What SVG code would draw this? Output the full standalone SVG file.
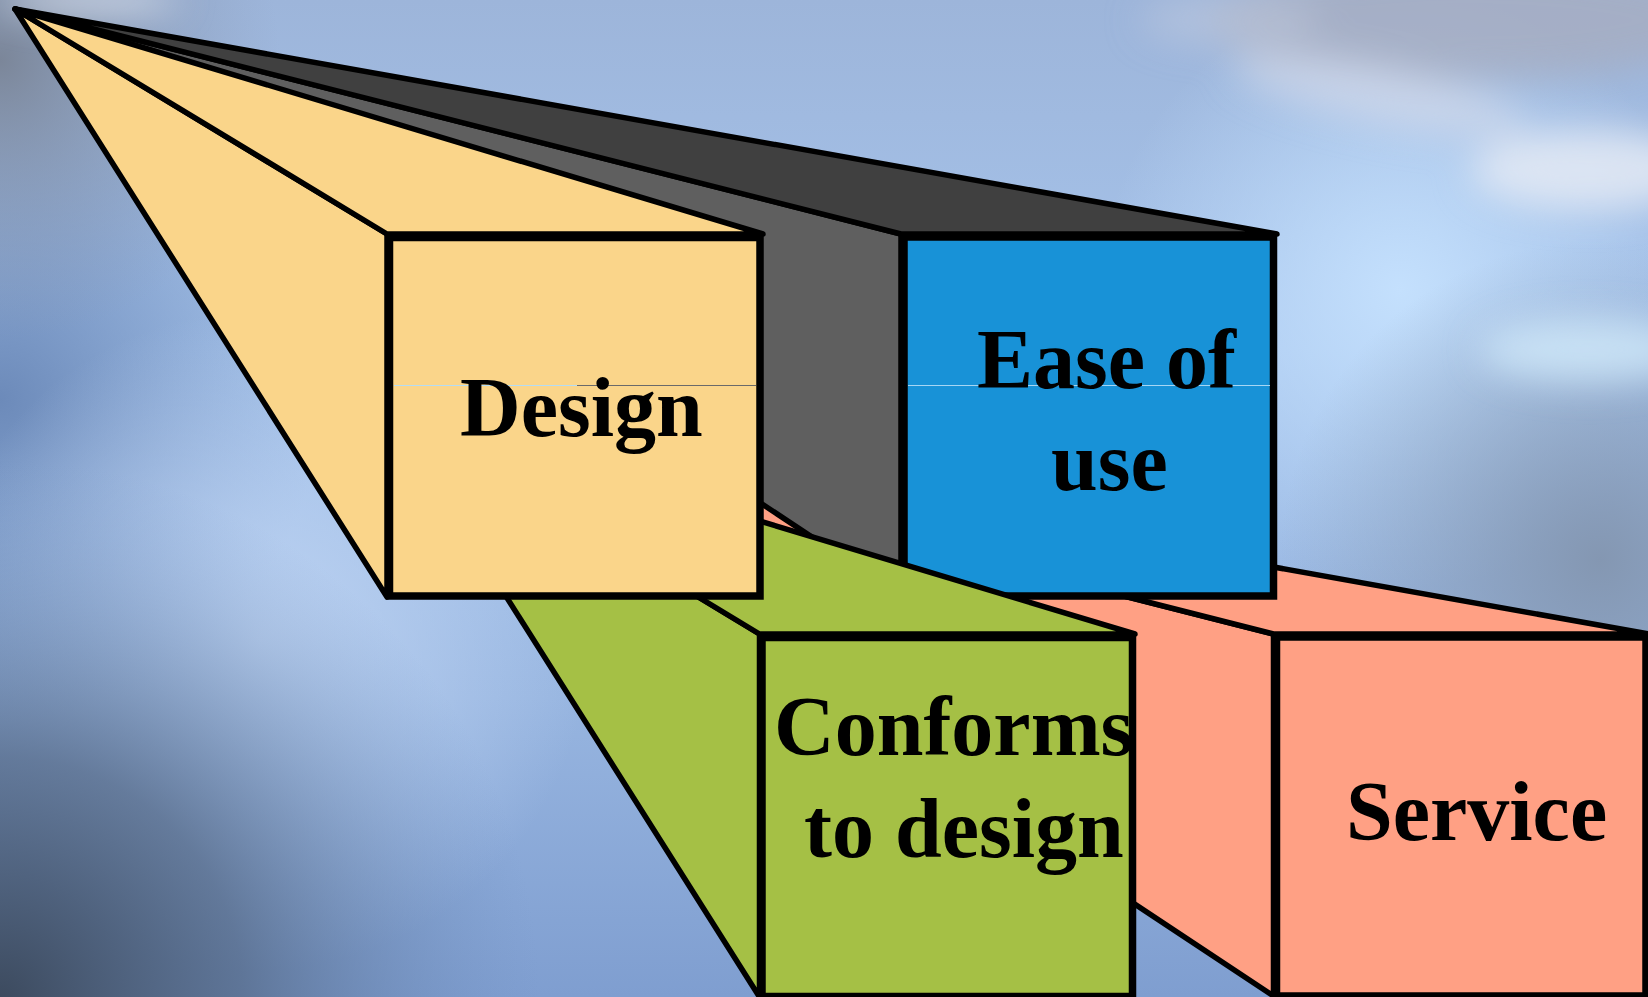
<svg xmlns="http://www.w3.org/2000/svg" width="1648" height="997" viewBox="0 0 1648 997">
  <defs>
    <linearGradient id="skyBase" x1="0" y1="0" x2="0" y2="1">
      <stop offset="0" stop-color="#9db5da"/>
      <stop offset="0.35" stop-color="#a6c4ec"/>
      <stop offset="0.7" stop-color="#97b5e0"/>
      <stop offset="1" stop-color="#7f9ed0"/>
    </linearGradient>
    <radialGradient id="darkCorner" cx="0" cy="1000" r="540" gradientUnits="userSpaceOnUse">
      <stop offset="0" stop-color="#3c4a5e" stop-opacity="1"/>
      <stop offset="0.45" stop-color="#566b8a" stop-opacity="0.8"/>
      <stop offset="1" stop-color="#7090c0" stop-opacity="0"/>
    </radialGradient>
    <radialGradient id="slateLeft" cx="0" cy="400" r="320" gradientUnits="userSpaceOnUse">
      <stop offset="0" stop-color="#6684b4" stop-opacity="0.9"/>
      <stop offset="1" stop-color="#6684b4" stop-opacity="0"/>
    </radialGradient>
    <radialGradient id="grayTopLeft" cx="0" cy="60" r="280" gradientUnits="userSpaceOnUse">
      <stop offset="0" stop-color="#7b8699" stop-opacity="1"/>
      <stop offset="1" stop-color="#8a9ab6" stop-opacity="0"/>
    </radialGradient>
    <radialGradient id="glowLeft" cx="260" cy="640" r="330" gradientUnits="userSpaceOnUse">
      <stop offset="0" stop-color="#bdd3f2" stop-opacity="1"/>
      <stop offset="1" stop-color="#bdd3f2" stop-opacity="0"/>
    </radialGradient>
    <radialGradient id="glowRight" cx="1400" cy="290" r="300" gradientUnits="userSpaceOnUse">
      <stop offset="0" stop-color="#c4e0fd" stop-opacity="1"/>
      <stop offset="1" stop-color="#c4e0fd" stop-opacity="0"/>
    </radialGradient>
    <radialGradient id="grayRight" cx="1600" cy="560" r="320" gradientUnits="userSpaceOnUse">
      <stop offset="0" stop-color="#8497b2" stop-opacity="1"/>
      <stop offset="1" stop-color="#8497b2" stop-opacity="0"/>
    </radialGradient>
    <filter id="soft" x="-50%" y="-50%" width="200%" height="200%">
      <feGaussianBlur stdDeviation="18"/>
    </filter>
    <style>
      .edge { stroke: #000; stroke-width: 5.5; stroke-linejoin: round; stroke-linecap: round; }
      .front { stroke: #000; stroke-width: 7.5; stroke-linejoin: miter; }
      .label { font-family: "Liberation Serif", "Times New Roman", serif; font-weight: bold; font-size: 84px; fill: #000; }
      .yellow { fill: #fad58a; }
      .blue { fill: #1892d7; }
      .green { fill: #a5c045; }
      .salmon { fill: #ffa084; }
      .grayTop { fill: #404040; }
      .graySide { fill: #5f5f5f; }
    </style>
  </defs>

  <!-- sky backdrop -->
  <g id="background">
    <rect x="0" y="0" width="1648" height="997" fill="url(#skyBase)"/>
    <rect x="0" y="0" width="1648" height="997" fill="url(#slateLeft)"/>
    <rect x="0" y="0" width="1648" height="997" fill="url(#glowLeft)"/>
    <rect x="0" y="0" width="1648" height="997" fill="url(#darkCorner)"/>
    <rect x="0" y="0" width="1648" height="997" fill="url(#grayTopLeft)"/>
    <rect x="0" y="0" width="1648" height="997" fill="url(#glowRight)"/>
    <rect x="0" y="0" width="1648" height="997" fill="url(#grayRight)"/>
    <g filter="url(#soft)">
      <ellipse cx="1470" cy="20" rx="260" ry="60" fill="#a6acc0" opacity="0.8"/>
      <ellipse cx="1380" cy="95" rx="150" ry="28" fill="#d2d8ea" opacity="0.7" transform="rotate(12 1380 95)"/>
      <ellipse cx="1590" cy="170" rx="120" ry="40" fill="#e4eaf4" opacity="0.85"/>
      <ellipse cx="1590" cy="350" rx="110" ry="32" fill="#d4ecfc" opacity="0.75"/>
      <ellipse cx="90" cy="0" rx="90" ry="14" fill="#e0e6f0" opacity="0.8"/>
      <ellipse cx="1230" cy="20" rx="90" ry="25" fill="#c4cce0" opacity="0.5"/>
    </g>
  </g>

  <!-- Service: rear-right block -->
  <g id="node-service">
    <polygon class="salmon edge" points="387.5,409 1273.5,634 1273.5,996"/>
    <polygon class="salmon edge" points="387.5,409 1273.5,634 1649,634"/>
    <rect class="salmon front" x="1276.5" y="637" width="369.5" height="359"/>
    <text class="label" x="1346" y="840">Service</text>
  </g>

  <!-- Ease of use: rear-left block -->
  <g id="node-ease">
    <polygon class="graySide edge" points="15,9 901,234 901,596"/>
    <polygon class="grayTop edge" points="15,9 901,234 1277,234"/>
    <rect class="blue front" x="904" y="237" width="369.5" height="359"/>
    <line x1="908" y1="385.5" x2="1270" y2="385.5" stroke="#a6d6f4" stroke-width="1"/>
    <text class="label" x="977" y="388">Ease of</text>
    <text class="label" x="1051" y="490">use</text>
  </g>

  <!-- Conforms to design: front-right block -->
  <g id="node-conforms">
    <polygon class="green edge" points="387.5,409 759.5,634 759.5,997"/>
    <polygon class="green edge" points="387.5,409 759.5,634 1135,634"/>
    <rect class="green front" x="762" y="637.5" width="370.5" height="359"/>
    <text class="label" x="774" y="755">Conforms</text>
    <text class="label" x="804" y="857">to design</text>
  </g>

  <!-- Design: front-left block -->
  <g id="node-design">
    <polygon class="yellow edge" points="15,9 387,234 387,597"/>
    <polygon class="yellow edge" points="15,9 387,234 763,234"/>
    <rect class="yellow front" x="389.5" y="237.5" width="370.5" height="358.5"/>
    <line x1="394" y1="385.5" x2="577" y2="385.5" stroke="#b4dcf4" stroke-width="1"/>
    <line x1="577" y1="385.5" x2="756" y2="385.5" stroke="#6a6a6a" stroke-width="1"/>
    <text class="label" x="460" y="436">Design</text>
  </g>
</svg>
